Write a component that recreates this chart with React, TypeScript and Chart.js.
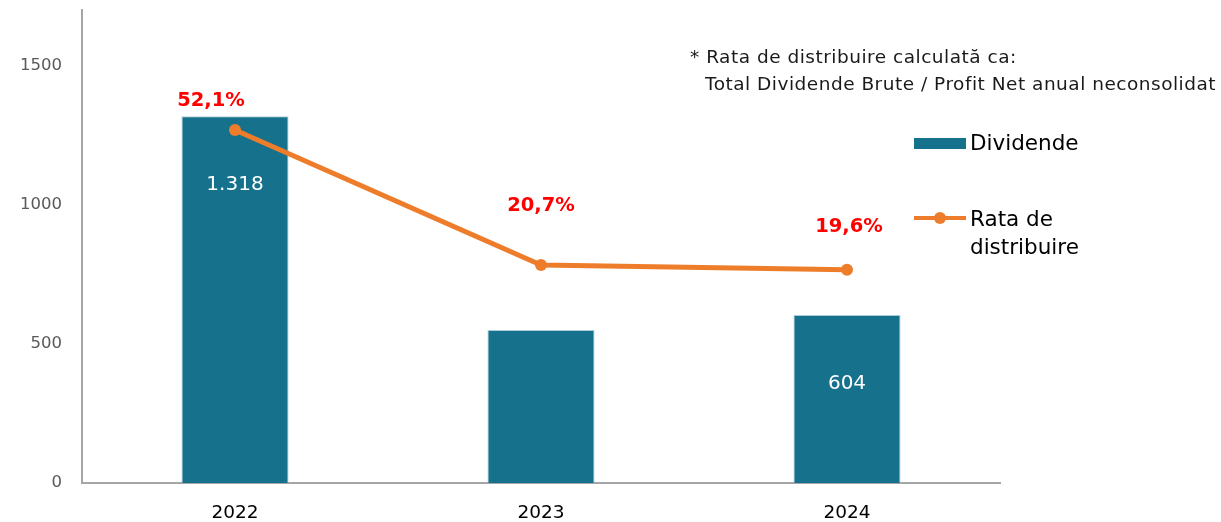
import React, { useEffect, useRef } from "react";
import { Chart, registerables } from "chart.js";

Chart.register(...registerables);

const categories = ["2022", "2023", "2024"];
const dividende = [1318, 550, 604];
const dividendeLabels = ["1.318", "", "604"];
const rataDistribuire = [52.1, 20.7, 19.6];
const rataLabels = ["52,1%", "20,7%", "19,6%"];
const yTicks = [0, 500, 1000, 1500];

const FONT = '"DejaVu Sans", sans-serif';
const BAR_COLOR = "#15718C";
const LINE_COLOR = "#EE7D2B";
const RED = "#FF0000";
const rataLabelOffsets = [
  [-24, -29],
  [0, -59],
  [2, -43],
];

const labelsPlugin = {
  id: "customLabels",
  afterDatasetsDraw(chart: any) {
    const ctx = chart.ctx;
    ctx.save();
    ctx.textAlign = "center";
    ctx.textBaseline = "middle";
    const barMeta = chart.getDatasetMeta(1);
    ctx.font = `20px ${FONT}`;
    ctx.fillStyle = "#FFFFFF";
    barMeta.data.forEach((el: any, i: number) => {
      const t = dividendeLabels[i];
      if (!t) return;
      ctx.fillText(t, el.x, el.y + 69);
    });
    const lineMeta = chart.getDatasetMeta(0);
    ctx.font = `bold 19.5px ${FONT}`;
    ctx.fillStyle = RED;
    lineMeta.data.forEach((el: any, i: number) => {
      const [dx, dy] = rataLabelOffsets[i];
      ctx.fillText(rataLabels[i], el.x + dx, el.y + dy);
    });
    ctx.restore();
  },
};

export default function App() {
  const ref = useRef<HTMLCanvasElement | null>(null);
  useEffect(() => {
    if (!ref.current) return;
    const chart = new Chart(ref.current, {
      type: "bar",
      data: {
        labels: categories,
        datasets: [
          {
            type: "line",
            label: "Rata de distribuire",
            data: rataDistribuire,
            yAxisID: "y1",
            borderColor: LINE_COLOR,
            backgroundColor: LINE_COLOR,
            borderWidth: 5,
            pointRadius: 6,
            pointHoverRadius: 6,
            pointBackgroundColor: LINE_COLOR,
            pointBorderWidth: 0,
            tension: 0,
            order: 0,
          } as any,
          {
            type: "bar",
            label: "Dividende",
            data: dividende,
            yAxisID: "y",
            backgroundColor: BAR_COLOR,
            borderColor: "rgba(160,200,215,0.9)",
            borderWidth: 1,
            categoryPercentage: 1,
            barPercentage: 0.35,
            order: 1,
          } as any,
        ],
      },
      options: {
        animation: false,
        responsive: false,
        layout: { padding: { top: 10, right: 221, left: 0, bottom: 0 } },
        plugins: {
          legend: { display: false },
          tooltip: { enabled: false },
          title: { display: false },
        },
        scales: {
          x: {
            grid: { display: false, drawTicks: false },
            border: { display: true, color: "#A6A6A6", width: 2 },
            ticks: {
              color: "#000000",
              font: { family: FONT, size: 18.5 },
              padding: 19,
            },
            afterFit(scale: any) {
              scale.height = 39;
              scale.paddingLeft = 0;
              scale.paddingRight = 0;
            },
          },
          y: {
            min: 0,
            max: 1700,
            position: "left",
            grid: { display: false, drawTicks: false },
            border: { display: true, color: "#A6A6A6", width: 2 },
            afterBuildTicks(scale: any) {
              scale.ticks = yTicks.map((v) => ({ value: v }));
            },
            ticks: {
              color: "#595959",
              font: { family: FONT, size: 16.5 },
              padding: 20,
              includeBounds: false,
              callback: (v: any) => String(v),
            },
            afterFit(scale: any) {
              scale.width = 82;
              scale.paddingTop = 0;
              scale.paddingBottom = 0;
            },
          },
          y1: {
            display: false,
            min: -30,
            max: 80,
            position: "right",
          },
        },
      } as any,
      plugins: [labelsPlugin],
    });
    return () => chart.destroy();
  }, []);

  const textStyle: React.CSSProperties = {
    position: "absolute",
    fontFamily: FONT,
    whiteSpace: "pre",
    lineHeight: 1,
  };

  return (
    <div style={{ position: "absolute", left: 0, top: 0, width: 1221, height: 522, background: "#fff" }}>
      <canvas ref={ref} width={1221} height={522} style={{ position: "absolute", left: 0, top: 0 }} />
      <div style={{ ...textStyle, left: 690, top: 48, fontSize: 18.5, letterSpacing: 0.5, color: "#1A1A1A" }}>
        * Rata de distribuire calculată ca:
      </div>
      <div style={{ ...textStyle, left: 705, top: 75, fontSize: 18.5, letterSpacing: 0.5, color: "#1A1A1A" }}>
        Total Dividende Brute / Profit Net anual neconsolidat
      </div>
      <div style={{ position: "absolute", left: 914, top: 138, width: 52, height: 11, background: BAR_COLOR }} />
      <div style={{ ...textStyle, left: 970, top: 132, fontSize: 21.5, color: "#000" }}>Dividende</div>
      <div style={{ position: "absolute", left: 914, top: 216, width: 52, height: 4, background: LINE_COLOR }} />
      <div
        style={{
          position: "absolute",
          left: 934,
          top: 212,
          width: 12,
          height: 12,
          borderRadius: 6,
          background: LINE_COLOR,
        }}
      />
      <div style={{ ...textStyle, left: 970, top: 205, fontSize: 21.5, color: "#000", lineHeight: "28px" }}>
        {"Rata de\ndistribuire"}
      </div>
    </div>
  );
}
